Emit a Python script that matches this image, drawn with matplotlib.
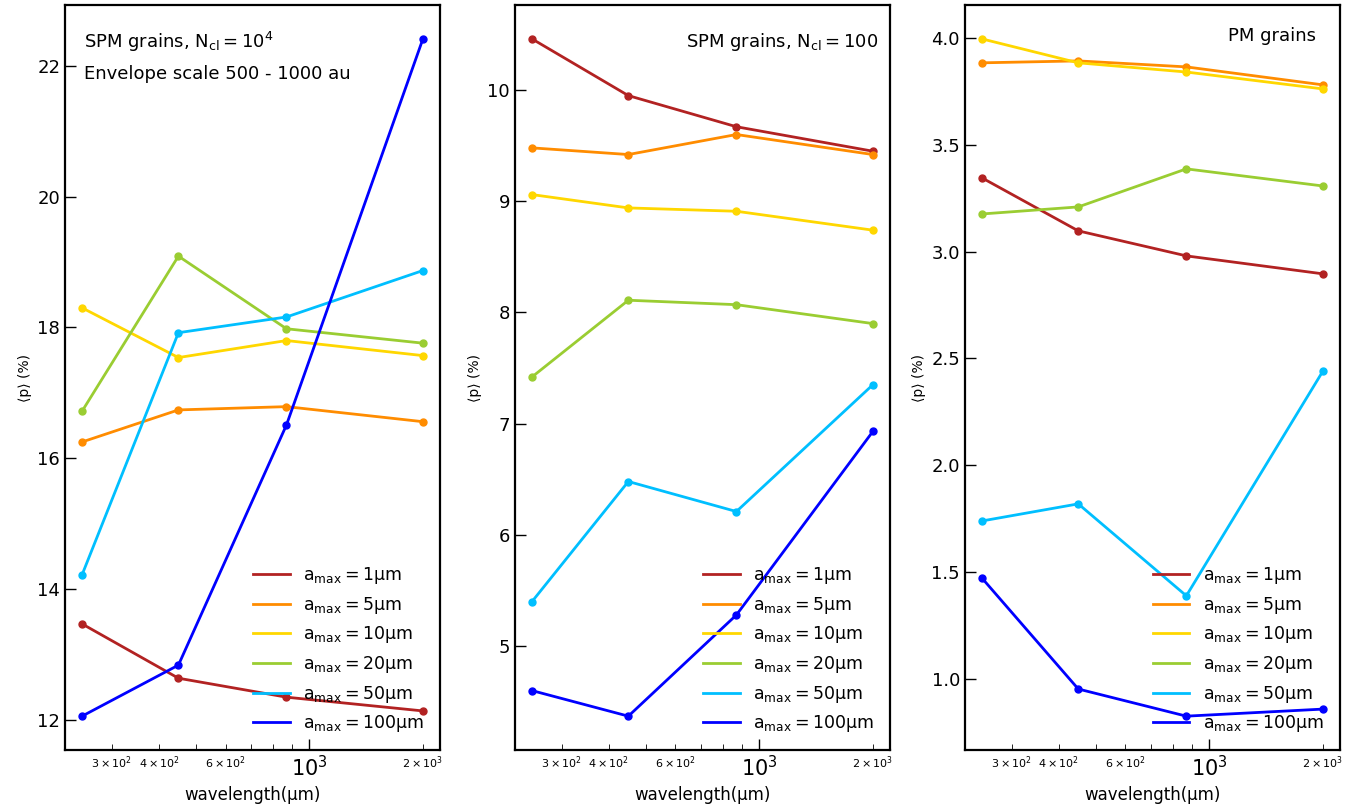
import numpy as np
import matplotlib
matplotlib.use('Agg')
import matplotlib.pyplot as plt

wavelength = np.array([250, 450, 870, 2000])
amax = ['1', '5', '10', '20', '50', '100']
colors = ['firebrick', 'darkorange', 'gold', 'yellowgreen', 'deepskyblue', 'blue']

# SPM grains, Ncl = 1e4
p_spm4 = [
    [13.47, 12.64, 12.35, 12.14],
    [16.25, 16.74, 16.79, 16.56],
    [18.30, 17.54, 17.80, 17.57],
    [16.72, 19.09, 17.98, 17.76],
    [14.22, 17.92, 18.16, 18.87],
    [12.06, 12.84, 16.51, 22.41],
]
# SPM grains, Ncl = 100
p_spm100 = [
    [10.46, 9.95, 9.67, 9.45],
    [9.48, 9.42, 9.60, 9.42],
    [9.06, 8.94, 8.91, 8.74],
    [7.42, 8.11, 8.07, 7.90],
    [5.40, 6.48, 6.21, 7.35],
    [4.60, 4.37, 5.28, 6.93],
]
# PM grains
p_pm = [
    [3.345, 3.097, 2.98, 2.896],
    [3.883, 3.892, 3.864, 3.78],
    [3.995, 3.883, 3.84, 3.761],
    [3.176, 3.209, 3.387, 3.307],
    [1.74, 1.82, 1.39, 2.44],
    [1.473, 0.954, 0.827, 0.860],
]

fig, axes = plt.subplots(1, 3, figsize=(13.63, 8.09), dpi=100)
plt.subplots_adjust(left=0.0477, right=0.983, top=0.9938, bottom=0.0729, wspace=0.2)

for ax, data in zip(axes, [p_spm4, p_spm100, p_pm]):
    for i in range(len(amax)):
        ax.plot(wavelength, data[i], color=colors[i], lw=2,
                label=r'$\mathrm{a_{max}}=%s$μm' % amax[i])
        ax.plot(wavelength, data[i], 'o', color=colors[i], ms=5)
    ax.set_xscale('log')
    ax.tick_params(which='both', direction='in')
    ax.tick_params(which='major', labelsize=15, length=8, width=1)
    ax.tick_params(which='minor', labelsize=8, length=4)
    ax.tick_params(axis='y', labelsize=13)
    for s in ax.spines.values():
        s.set_linewidth(1.6)
    ax.set_xlabel('wavelength(μm)', fontsize=12)
    ax.set_ylabel('⟨p⟩ (%)', fontsize=10)
    ax.legend(loc='lower right', frameon=False, fontsize=12.5,
              handlelength=2.1, labelspacing=0.5)

axes[0].text(0.05, 0.95, r'SPM grains, $\mathrm{N_{cl}}=10^4$', transform=axes[0].transAxes,
             fontsize=13, va='center')
axes[0].text(0.05, 0.907, 'Envelope scale 500 - 1000 au', transform=axes[0].transAxes,
             fontsize=13, va='center')
axes[1].text(0.968, 0.95, r'SPM grains, $\mathrm{N_{cl}}=100$', transform=axes[1].transAxes,
             fontsize=13, va='center', ha='right')
axes[2].text(0.936, 0.958, 'PM grains', transform=axes[2].transAxes,
             fontsize=13, va='center', ha='right')

plt.savefig('out.png')
